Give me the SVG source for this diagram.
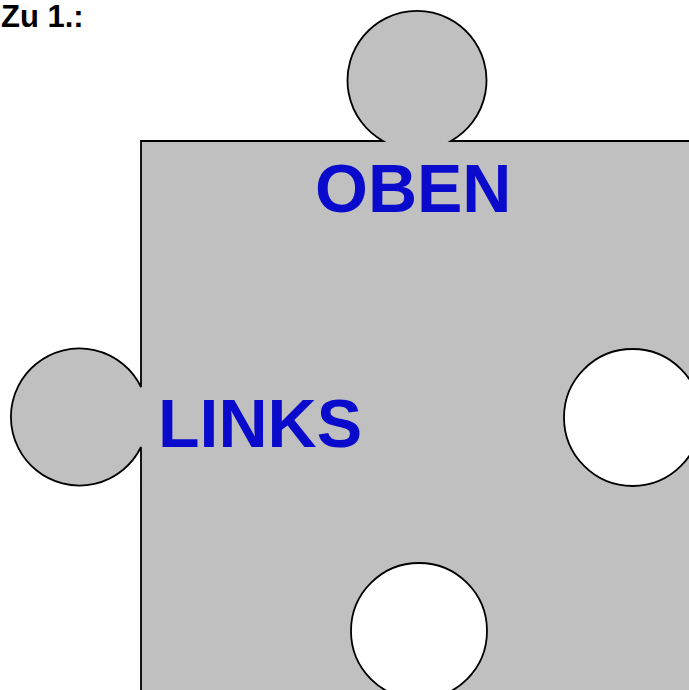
<svg xmlns="http://www.w3.org/2000/svg" width="689" height="690" viewBox="0 0 689 690">
  <style>
    .piece { fill: #c0c0c0; stroke: #000; stroke-width: 1.8; }
    .hole { fill: #fff; stroke: #000; stroke-width: 1.8; }
    .label { font-family: "Liberation Sans", Arial, sans-serif; font-weight: bold; fill: #0a0acc; font-size: 68px; }
    .title { font-family: "Liberation Sans", Arial, sans-serif; font-weight: bold; fill: #000; font-size: 31px; }
  </style>
  <rect width="689" height="690" fill="#fff"/>
  <g id="title">
    <text class="title" x="1" y="27">Zu 1.:</text>
  </g>
  <g id="puzzle-piece">
    <path class="piece" d="M141,700 L141,447 A68.5,68.5 0 1 1 141,387 L141,141 L383,141 A69.5,69.5 0 1 1 451,141 L700,141 L700,700 Z"/>
    <circle class="hole" cx="632.5" cy="417.5" r="68.5"/>
    <circle class="hole" cx="419" cy="631" r="68"/>
  </g>
  <g id="label-oben">
    <text class="label" x="315" y="212">OBEN</text>
  </g>
  <g id="label-links">
    <text class="label" x="158" y="447">LINKS</text>
  </g>
  <g id="connectors"></g>
</svg>
